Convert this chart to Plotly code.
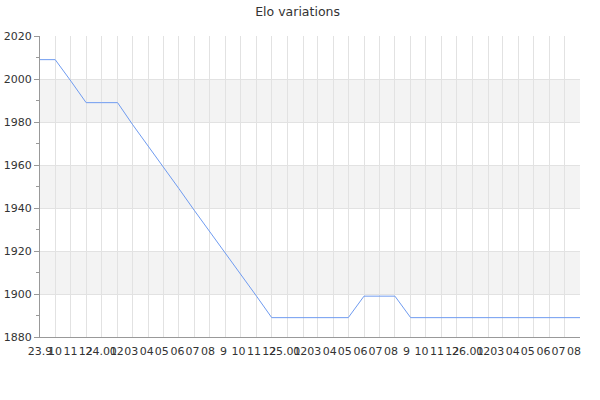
import pandas as pd
import plotly.graph_objects as go

# monthly Elo values, Sep 2023 .. Aug 2026
months = [
    "2023-09-01", "2023-10-01", "2023-11-01", "2023-12-01",
    "2024-01-01", "2024-02-01", "2024-03-01", "2024-04-01", "2024-05-01", "2024-06-01",
    "2024-07-01", "2024-08-01", "2024-09-01", "2024-10-01", "2024-11-01", "2024-12-01",
    "2025-01-01", "2025-02-01", "2025-03-01", "2025-04-01", "2025-05-01", "2025-06-01",
    "2025-07-01", "2025-08-01", "2025-09-01", "2025-10-01", "2025-11-01", "2025-12-01",
    "2026-01-01", "2026-02-01", "2026-03-01", "2026-04-01", "2026-05-01", "2026-06-01",
    "2026-07-01", "2026-08-01",
]
elo = [
    2009, 2009, 1999, 1989,
    1989, 1989, 1979, 1969, 1959, 1949,
    1939, 1929, 1919, 1909, 1899, 1889,
    1889, 1889, 1889, 1889, 1889, 1899,
    1899, 1899, 1889, 1889, 1889, 1889,
    1889, 1889, 1889, 1889, 1889, 1889,
    1889, 1889,
]
tick_labels = [
    "23.9", "10", "11", "12",
    "24.01", "02", "03", "04", "05", "06", "07", "08", "9", "10", "11", "12",
    "25.01", "02", "03", "04", "05", "06", "07", "08", "9", "10", "11", "12",
    "26.01", "02", "03", "04", "05", "06", "07", "08",
]
y_ticks = [1880, 1900, 1920, 1940, 1960, 1980, 2000, 2020]

# tick labels in the original sit on a slightly tighter scale than the grid
start, end = pd.Timestamp(months[0]), pd.Timestamp(months[-1])
label_end = start + (end - start) * (540 / 534)

fig = go.Figure()

fig.add_trace(go.Scatter(
    x=months, y=elo, mode="lines",
    line=dict(color="#6f9bf0", width=1),
    hoverinfo="x+y", showlegend=False,
))
# invisible carrier so the label axis gets drawn
fig.add_trace(go.Scatter(
    x=months, y=elo, mode="lines", xaxis="x2", opacity=0,
    hoverinfo="skip", showlegend=False,
))

# alternating grey bands between every other pair of y ticks
for lo, hi in zip(y_ticks[1::2], y_ticks[2::2]):
    fig.add_shape(type="rect", xref="paper", x0=0, x1=1, yref="y", y0=lo, y1=hi,
                  fillcolor="#f3f3f3", line_width=0, layer="below")

fig.update_layout(
    width=600, height=400,
    margin=dict(l=40, r=20, t=36, b=63, autoexpand=False),
    paper_bgcolor="white", plot_bgcolor="white",
    font=dict(family="DejaVu Sans", size=11, color="#333333"),
    title=dict(text="Elo variations", x=0.496, xanchor="center",
               y=0.97, yanchor="middle", yref="container",
               font=dict(size=12.5, color="#333333")),
    xaxis2=dict(
        type="date", overlaying="x", anchor="y", side="bottom",
        range=[start, label_end], automargin=False,
        tickmode="array", tickvals=months, ticktext=tick_labels, tickangle=0,
        showgrid=False, showline=False, zeroline=False,
        ticks="", ticklabelstandoff=6,
    ),
)
fig.update_xaxes(
    selector=dict(overlaying=None),
    type="date", range=[months[0], months[-1]], automargin=False,
    tickmode="array", tickvals=months, showticklabels=False,
    showgrid=True, gridcolor="#e2e2e2", gridwidth=1,
    showline=True, linecolor="#999999", linewidth=1,
    ticks="", zeroline=False,
)
fig.update_yaxes(
    range=[y_ticks[0], y_ticks[-1]], tickmode="array", tickvals=y_ticks, automargin=False,
    showgrid=True, gridcolor="#e2e2e2", gridwidth=1,
    showline=True, linecolor="#999999", linewidth=1,
    ticks="outside", ticklen=5, tickcolor="#999999",
    minor=dict(dtick=10, ticks="outside", ticklen=3, tickcolor="#999999", showgrid=False),
    zeroline=False,
)

# drop the default page margin so the figure sits at the window corner
fig.write_html("out.html", config={"displayModeBar": False},
               post_script="document.body.style.margin = '0';")
